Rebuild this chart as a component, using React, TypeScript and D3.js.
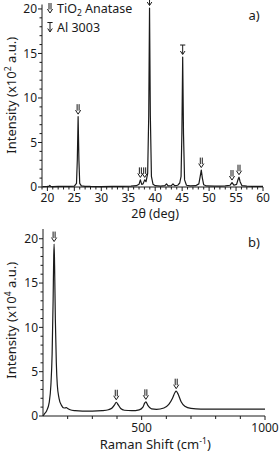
import React from "react";
import * as d3 from "d3";

// ---- Data ----
// XRD pattern (2θ in degrees, intensity x10^2 a.u.)
const xrdTheta = [19.1, 20.0, 20.3, 20.45, 20.6, 21.0, 22.0, 23.0, 24.0, 25.0, 25.4, 25.55, 25.7, 25.85, 26.0, 26.3, 27.0, 28.0, 30.0, 32.0, 34.0, 35.5, 36.5, 37.0, 37.25, 37.5, 37.75, 38.05, 38.3, 38.6, 38.8, 38.95, 39.1, 39.3, 39.6, 40.0, 41.0, 41.8, 42.1, 42.4, 43.0, 43.3, 43.6, 44.2, 44.55, 44.8, 44.95, 45.1, 45.25, 45.45, 45.8, 46.5, 47.5, 48.1, 48.35, 48.55, 48.75, 49.0, 49.5, 51.0, 52.0, 53.0, 53.9, 54.25, 54.6, 55.1, 55.4, 55.55, 55.75, 56.1, 57.0, 58.0, 59.0, 60.0];
const xrdIntensity = [0.05, 0.06, 0.08, 0.18, 0.06, 0.05, 0.08, 0.06, 0.07, 0.1, 0.4, 3.0, 7.9, 3.0, 0.4, 0.12, 0.08, 0.06, 0.05, 0.06, 0.07, 0.1, 0.15, 0.3, 0.8, 0.3, 0.35, 0.8, 0.6, 1.5, 8.0, 20.1, 8.0, 1.2, 0.3, 0.15, 0.1, 0.15, 0.35, 0.12, 0.15, 0.35, 0.15, 0.2, 0.45, 1.2, 6.0, 14.6, 6.0, 0.8, 0.2, 0.12, 0.15, 0.35, 1.2, 1.9, 1.0, 0.25, 0.12, 0.1, 0.1, 0.12, 0.2, 0.5, 0.2, 0.3, 0.9, 1.1, 0.6, 0.15, 0.1, 0.08, 0.08, 0.08];

// Marker positions in panel a: [2θ, peak intensity]
const anataseMarksA: [number, number][] = [[25.7, 7.9], [37.25, 0.8], [38.05, 0.8], [48.55, 1.9], [54.25, 0.5], [55.55, 1.1]];
const alMarksA: [number, number][] = [[38.95, 20.1], [45.1, 14.6]];

// Raman spectrum (cm^-1, intensity x10^4 a.u.)
const ramanShift = [100, 105, 115, 125, 132, 137, 141, 143.5, 145, 147, 150, 154, 158, 165, 175, 185, 195, 200, 210, 230, 260, 300, 340, 365, 380, 390, 397, 405, 415, 430, 460, 490, 505, 512, 517, 525, 540, 560, 590, 610, 625, 635, 640, 648, 660, 675, 700, 740, 800, 900, 1000];
const ramanIntensity = [0.0, 0.2, 0.6, 1.5, 3.5, 7.0, 13.0, 18.0, 19.4, 17.0, 11.0, 6.0, 3.5, 2.0, 1.2, 0.9, 0.95, 0.85, 0.7, 0.6, 0.55, 0.55, 0.6, 0.7, 0.9, 1.25, 1.55, 1.25, 0.85, 0.65, 0.6, 0.7, 1.0, 1.45, 1.6, 1.2, 0.8, 0.75, 0.9, 1.3, 2.0, 2.65, 2.8, 2.45, 1.6, 1.1, 0.85, 0.78, 0.78, 0.78, 0.78];
const anataseMarksB: [number, number][] = [[145, 19.4], [397, 1.55], [517, 1.6], [640, 2.8]];

const xTicksA = [20, 25, 30, 35, 40, 45, 50, 55, 60];
const yTicksA = [0, 5, 10, 15, 20];
const xTicksB = [500, 1000];
const yTicksB = [0, 5, 10, 15, 20];

const FONT = "'Noto Sans', 'Open Sans', sans-serif";
const INK = "#1a1a1a";

function DoubleArrow({ x, y }: { x: number; y: number }) {
  // y = bottom tip
  const d = `M${x - 1},${y - 10} V${y - 3.5} M${x + 1},${y - 10} V${y - 3.5} M${x - 2.6},${y - 4} L${x},${y} L${x + 2.6},${y - 4}`;
  return <path d={d} fill="none" stroke={INK} strokeWidth={1} />;
}
function BarArrow({ x, y }: { x: number; y: number }) {
  const d = `M${x - 2.6},${y - 9.5} H${x + 2.6} M${x},${y - 9.5} V${y - 0.5} M${x - 2.3},${y - 3.5} L${x},${y} L${x + 2.3},${y - 3.5}`;
  return <path d={d} fill="none" stroke={INK} strokeWidth={1} />;
}

export default function App() {
  const W = 280, H = 453;

  // Panel a scales
  const xA = d3.scaleLinear().domain([19, 60]).range([42, 263]);
  const yA = d3.scaleLinear().domain([0, 20.5]).range([187, 4.5]);
  // Panel b scales
  const xB = d3.scaleLinear().domain([100, 1000]).range([43, 265]);
  const yB = d3.scaleLinear().domain([0, 21.1]).range([416, 229]);

  const xrdData = xrdTheta.map((t, i) => [t, xrdIntensity[i]] as [number, number]);
  const ramanData = ramanShift.map((t, i) => [t, ramanIntensity[i]] as [number, number]);

  const lineA = d3.line<[number, number]>().x(d => xA(d[0])).y(d => yA(d[1]));
  const lineB = d3.line<[number, number]>().x(d => xB(d[0])).y(d => yB(d[1])).curve(d3.curveMonotoneX);

  const minorXA = d3.range(19, 61, 1).filter(v => v % 5 !== 0);
  const minorYA = d3.range(0, 21, 1).filter(v => v % 5 !== 0);
  const minorXB = d3.range(100, 1001, 100).filter(v => v % 500 !== 0 && v !== 100);
  const minorYB = d3.range(0, 21, 1).filter(v => v % 5 !== 0);

  const y0A = yA(0), x0A = xA.range()[0];
  const y0B = yB(0), x0B = xB.range()[0];

  return (
    <svg width={W} height={H} style={{ position: "absolute", left: 0, top: 0 }} fontFamily={FONT}>
      <rect width={W} height={H} fill="#fff" />
      {/* ---------- Panel a ---------- */}
      <g>
        <line x1={x0A} x2={xA.range()[1]} y1={y0A} y2={y0A} stroke={INK} strokeWidth={1} />
        <line x1={x0A} x2={x0A} y1={y0A} y2={yA.range()[1]} stroke={INK} strokeWidth={1} />
        {xTicksA.map(t => (
          <g key={"xa" + t}>
            <line x1={xA(t)} x2={xA(t)} y1={y0A} y2={y0A + 4} stroke={INK} />
            <text x={xA(t)} y={y0A + 14.5} fontSize={12} textAnchor="middle" fill={INK}>{t}</text>
          </g>
        ))}
        {minorXA.map(t => (
          <line key={"mxa" + t} x1={xA(t)} x2={xA(t)} y1={y0A} y2={y0A + 2.5} stroke={INK} />
        ))}
        {yTicksA.map(t => (
          <g key={"ya" + t}>
            <line x1={x0A - 4} x2={x0A} y1={yA(t)} y2={yA(t)} stroke={INK} />
            <text x={x0A - 5} y={yA(t) + 4.3} fontSize={12} textAnchor="end" fill={INK}>{t}</text>
          </g>
        ))}
        {minorYA.map(t => (
          <line key={"mya" + t} x1={x0A - 2.5} x2={x0A} y1={yA(t)} y2={yA(t)} stroke={INK} />
        ))}
        <text x={xA(40)} y={218} fontSize={12.5} textAnchor="middle" fill={INK}>2θ (deg)</text>
        <text transform={`translate(16,${yA(10.3)}) rotate(-90)`} fontSize={13} textAnchor="middle" fill={INK}>
          Intensity (x10<tspan fontSize={8.5} dy={-5}>2</tspan><tspan dy={5}> a.u.)</tspan>
        </text>
        <path d={lineA(xrdData) || ""} fill="none" stroke={INK} strokeWidth={1.2} strokeLinejoin="round" />
        {anataseMarksA.map(([x, v], i) => (
          <DoubleArrow key={"aa" + i} x={xA(x)} y={yA(v) - 2.5} />
        ))}
        {alMarksA.map(([x, v], i) => (
          <BarArrow key={"al" + i} x={xA(x)} y={yA(v) - 2.5} />
        ))}
        {/* legend */}
        <DoubleArrow x={50} y={13} />
        <text x={57} y={13} fontSize={12.5} fill={INK}>TiO<tspan fontSize={8.5} dy={3}>2</tspan><tspan dy={-3}> Anatase</tspan></text>
        <BarArrow x={50} y={32} />
        <text x={57} y={32} fontSize={12.5} fill={INK}>Al 3003</text>
        <text x={254} y={20} fontSize={13} textAnchor="middle" fill={INK}>a)</text>
      </g>

      {/* ---------- Panel b ---------- */}
      <g>
        <line x1={x0B} x2={xB.range()[1]} y1={y0B} y2={y0B} stroke={INK} strokeWidth={1} />
        <line x1={x0B} x2={x0B} y1={y0B} y2={yB.range()[1]} stroke={INK} strokeWidth={1} />
        {xTicksB.map(t => (
          <g key={"xb" + t}>
            <line x1={xB(t)} x2={xB(t)} y1={y0B} y2={y0B + 4} stroke={INK} />
            <text x={xB(t)} y={y0B + 15.5} fontSize={12} textAnchor="middle" fill={INK}>{t}</text>
          </g>
        ))}
        {minorXB.map(t => (
          <line key={"mxb" + t} x1={xB(t)} x2={xB(t)} y1={y0B} y2={y0B + 3} stroke={INK} />
        ))}
        {yTicksB.map(t => (
          <g key={"yb" + t}>
            <line x1={x0B - 4} x2={x0B} y1={yB(t)} y2={yB(t)} stroke={INK} />
            <text x={x0B - 5} y={yB(t) + 4.3} fontSize={12} textAnchor="end" fill={INK}>{t}</text>
          </g>
        ))}
        {minorYB.map(t => (
          <line key={"myb" + t} x1={x0B - 2.5} x2={x0B} y1={yB(t)} y2={yB(t)} stroke={INK} />
        ))}
        <text x={xB(555)} y={449} fontSize={13} textAnchor="middle" fill={INK}>
          Raman Shift (cm<tspan fontSize={8.5} dy={-5}>-1</tspan><tspan dy={5}>)</tspan>
        </text>
        <text transform={`translate(16,${yB(10.8)}) rotate(-90)`} fontSize={13} textAnchor="middle" fill={INK}>
          Intensity (x10<tspan fontSize={8.5} dy={-5}>4</tspan><tspan dy={5}> a.u.)</tspan>
        </text>
        <path d={lineB(ramanData) || ""} fill="none" stroke={INK} strokeWidth={1.2} strokeLinejoin="round" />
        {anataseMarksB.map(([x, v], i) => (
          <DoubleArrow key={"ab" + i} x={xB(x)} y={yB(v) - 2.5} />
        ))}
        <text x={254} y={247} fontSize={13} textAnchor="middle" fill={INK}>b)</text>
      </g>
    </svg>
  );
}
